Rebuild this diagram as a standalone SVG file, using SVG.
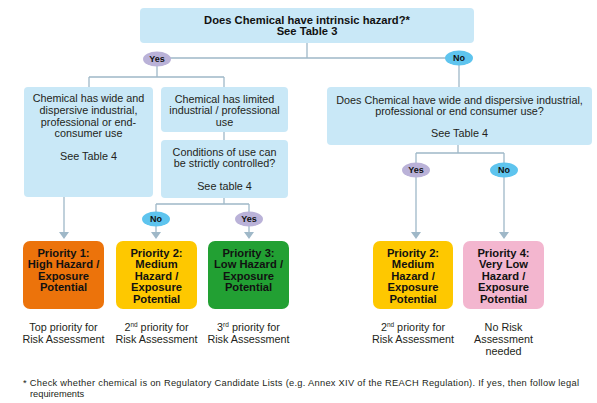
<svg xmlns="http://www.w3.org/2000/svg" width="597" height="403" viewBox="0 0 597 403">
<defs>
<style>
.q{fill:#c9e8f7}
.ln{stroke:#9fb8c8;stroke-width:1.3;fill:none}
.t{font-family:"Liberation Sans",Arial,sans-serif;font-size:10.8px;fill:#231f20;text-anchor:middle}
.b{font-family:"Liberation Sans",Arial,sans-serif;font-size:11.2px;font-weight:bold;fill:#111;text-anchor:middle}
.e{font-family:"Liberation Sans",Arial,sans-serif;font-size:9px;font-weight:bold;fill:#111;text-anchor:middle}
.yes{fill:#bab2d8}
.no{fill:#5ec4ee}
.f{font-family:"Liberation Sans",Arial,sans-serif;font-size:9.3px;fill:#231f20}
.ah{fill:#9fb8c8}
</style>
</defs>
<g id="connectors">
<path class="ln" d="M307,43 V58 M157,58 H459 M157,58 V77 M89,77 H224 M89,77 V87 M224,77 V87 M459,58 V87"/>
<path class="ln" d="M224,132 V140 M224,198 V204 M156,204 H249 M156,204 V233 M249,204 V233 M64,197 V233"/>
<path class="ln" d="M458,145 V153 M416,153 H504 M416,153 V233 M504,153 V233"/>
<path class="ah" d="M59,232 H69 L64,239 Z M151,232 H161 L156,239 Z M244,232 H254 L249,239 Z M411,232 H421 L416,239 Z M499,232 H509 L504,239 Z"/>
</g>
<g id="q1">
<rect class="q" x="140" y="8" width="334" height="35" rx="4"/>
<text class="b" x="307" y="24" font-size="11">Does Chemical have intrinsic hazard?*</text>
<text class="b" x="307" y="35" font-size="11">See Table 3</text>
</g>
<g id="yes1"><ellipse class="yes" cx="157" cy="59" rx="14" ry="7.5"/><text class="e" x="157" y="62">Yes</text></g>
<g id="no1"><ellipse class="no" cx="459" cy="58" rx="14" ry="7.5"/><text class="e" x="459" y="61">No</text></g>
<g id="wide">
<rect class="q" x="24" y="87" width="129" height="110" rx="4"/>
<text class="t" x="88.5" y="102">Chemical has wide and</text>
<text class="t" x="88.5" y="114">dispersive industrial,</text>
<text class="t" x="88.5" y="126">professional or end-</text>
<text class="t" x="88.5" y="137">consumer use</text>
<text class="t" x="88.5" y="160">See Table 4</text>
</g>
<g id="limited">
<rect class="q" x="161" y="87" width="127" height="45" rx="4"/>
<text class="t" x="224.5" y="103">Chemical has limited</text>
<text class="t" x="224.5" y="114">industrial / professional</text>
<text class="t" x="224.5" y="126">use</text>
</g>
<g id="controlled">
<rect class="q" x="161" y="140" width="127" height="58" rx="4"/>
<text class="t" x="224.5" y="156">Conditions of use can</text>
<text class="t" x="224.5" y="167">be strictly controlled?</text>
<text class="t" x="224.5" y="190">See table 4</text>
</g>
<g id="no2"><ellipse class="no" cx="156" cy="219" rx="14" ry="7.5"/><text class="e" x="156" y="222">No</text></g>
<g id="yes2"><ellipse class="yes" cx="249" cy="219" rx="14" ry="7.5"/><text class="e" x="249" y="222">Yes</text></g>
<g id="q2">
<rect class="q" x="327" y="87" width="265" height="58" rx="4"/>
<text class="t" x="459.5" y="104" font-size="11">Does Chemical have wide and dispersive industrial,</text>
<text class="t" x="459.5" y="115" font-size="11">professional or end consumer use?</text>
<text class="t" x="459.5" y="137" font-size="11">See Table 4</text>
</g>
<g id="yes3"><ellipse class="yes" cx="416" cy="170" rx="14" ry="7.5"/><text class="e" x="416" y="173">Yes</text></g>
<g id="no3"><ellipse class="no" cx="504" cy="170" rx="14" ry="7.5"/><text class="e" x="504" y="173">No</text></g>
<g id="p1">
<rect x="23" y="241" width="81" height="68" rx="7" fill="#ec730b"/>
<text class="b" x="63.5" y="257">Priority 1:</text>
<text class="b" x="63.5" y="268">High Hazard /</text>
<text class="b" x="63.5" y="279.5">Exposure</text>
<text class="b" x="63.5" y="291">Potential</text>
<text class="t" x="63.5" y="331">Top priority for</text>
<text class="t" x="63.5" y="343">Risk Assessment</text>
</g>
<g id="p2">
<rect x="116" y="241" width="81" height="68" rx="7" fill="#fec800"/>
<text class="b" x="156.5" y="257">Priority 2:</text>
<text class="b" x="156.5" y="268">Medium</text>
<text class="b" x="156.5" y="279.5">Hazard /</text>
<text class="b" x="156.5" y="291">Exposure</text>
<text class="b" x="156.5" y="302.5">Potential</text>
<text class="t" x="156.5" y="331">2<tspan font-size="6.5" dy="-4">nd</tspan><tspan dy="4"> priority for</tspan></text>
<text class="t" x="156.5" y="343">Risk Assessment</text>
</g>
<g id="p3">
<rect x="208" y="241" width="81" height="68" rx="7" fill="#22a033"/>
<text class="b" x="248.5" y="257">Priority 3:</text>
<text class="b" x="248.5" y="268">Low Hazard /</text>
<text class="b" x="248.5" y="279.5">Exposure</text>
<text class="b" x="248.5" y="291">Potential</text>
<text class="t" x="248.5" y="331">3<tspan font-size="6.5" dy="-4">rd</tspan><tspan dy="4"> priority for</tspan></text>
<text class="t" x="248.5" y="343">Risk Assessment</text>
</g>
<g id="p2b">
<rect x="373" y="241" width="80" height="68" rx="7" fill="#fec800"/>
<text class="b" x="413" y="257">Priority 2:</text>
<text class="b" x="413" y="268">Medium</text>
<text class="b" x="413" y="279.5">Hazard /</text>
<text class="b" x="413" y="291">Exposure</text>
<text class="b" x="413" y="302.5">Potential</text>
<text class="t" x="413" y="331">2<tspan font-size="6.5" dy="-4">nd</tspan><tspan dy="4"> priority for</tspan></text>
<text class="t" x="413" y="343">Risk Assessment</text>
</g>
<g id="p4">
<rect x="463" y="241" width="81" height="68" rx="7" fill="#f3b6cf"/>
<text class="b" x="503.5" y="257">Priority 4:</text>
<text class="b" x="503.5" y="268">Very Low</text>
<text class="b" x="503.5" y="279.5">Hazard /</text>
<text class="b" x="503.5" y="291">Exposure</text>
<text class="b" x="503.5" y="302.5">Potential</text>
<text class="t" x="503.5" y="331">No Risk</text>
<text class="t" x="503.5" y="343">Assessment</text>
<text class="t" x="503.5" y="355">needed</text>
</g>
<g id="footnote">
<text class="f" x="23" y="386" textLength="556" lengthAdjust="spacing">* Check whether chemical is on Regulatory Candidate Lists (e.g. Annex XIV of the REACH Regulation). If yes, then follow legal</text>
<text class="f" x="30" y="397">requirements</text>
</g>
</svg>
